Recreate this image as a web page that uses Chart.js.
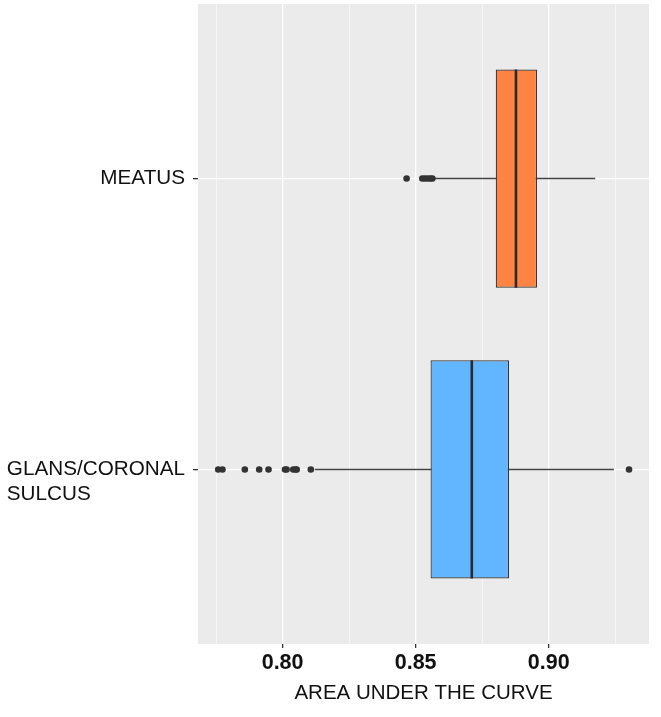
<!DOCTYPE html>
<html>
<head>
<meta charset="utf-8">
<script src="https://cdn.jsdelivr.net/npm/chart.js@4.4.1/dist/chart.umd.min.js"></script>
<style>
  body { margin: 0; background: #fff; }
  canvas { display: block; }
</style>
</head>
<body>
<canvas id="aucBox" width="661" height="717"></canvas>
<script>
// categories, top to bottom
const categories = [['MEATUS'], ['GLANS/CORONAL', 'SULCUS']];
const boxColors = ['#FF8443', '#62B5FF'];

// box stats
const q1 = [0.8801, 0.8556];
const medians = [0.8877, 0.8711];
const q3 = [0.8956, 0.8851];
const whiskerLow = [0.8573, 0.8121];
const whiskerHigh = [0.9175, 0.9245];

const meatusOutliers = [0.8466, 0.8525, 0.8535, 0.8545, 0.8555, 0.8563];
const glansOutliers = [0.7758, 0.7774, 0.7858, 0.7912, 0.7947, 0.8009, 0.8015, 0.8040, 0.8049, 0.8053, 0.8106, 0.9302];

const xTicks = [0.775, 0.80, 0.825, 0.85, 0.875, 0.90, 0.925];
const majorTicks = [0.80, 0.85, 0.90];
const xMin = 0.7682, xMax = 0.9377;

const isMajor = v => majorTicks.some(m => Math.abs(m - v) < 1e-6);
const halfBox = 0.375;

// build the datasets
const boxData = categories.map((c, i) => ({ x: [q1[i], q3[i]], y: i }));
const whiskerData = [];
const medianData = [];
categories.forEach((c, i) => {
    whiskerData.push({ x: whiskerLow[i], y: i }, { x: whiskerHigh[i], y: i }, { x: null, y: null });
    medianData.push({ x: medians[i], y: i - halfBox }, { x: medians[i], y: i + halfBox }, { x: null, y: null });
});
const outlierData = [
    ...meatusOutliers.map(v => ({ x: v, y: 0 })),
    ...glansOutliers.map(v => ({ x: v, y: 1 }))
];

const panelBg = {
    id: 'panelBg',
    beforeDraw(chart) {
        const { ctx, chartArea: a } = chart;
        ctx.save();
        ctx.fillStyle = '#EBEBEB';
        ctx.fillRect(a.left, a.top, a.right - a.left, a.bottom - a.top);
        ctx.restore();
    }
};

// category labels: first line sits on the tick, extra lines below, left aligned block
const catLabels = {
    id: 'catLabels',
    afterDraw(chart) {
        const { ctx } = chart;
        const y = chart.scales.y;
        const right = chart.chartArea.left - 13;
        const lineH = 24.5;
        ctx.save();
        ctx.font = '20.7px Arial, "Liberation Sans", sans-serif';
        ctx.fillStyle = '#111111';
        ctx.textBaseline = 'middle';
        categories.forEach((lines, i) => {
            const py = y.getPixelForValue(i);
            const w = Math.max(...lines.map(l => ctx.measureText(l).width));
            ctx.textAlign = 'left';
            lines.forEach((l, k) => ctx.fillText(l, right - w, py + k * lineH));
        });
        ctx.restore();
    }
};

new Chart(document.getElementById('aucBox').getContext('2d'), {
    data: {
        datasets: [
            {
                type: 'bar',
                data: boxData,
                backgroundColor: boxColors,
                borderColor: '#333333',
                borderWidth: 1.2,
                borderSkipped: false,
                barPercentage: 0.75,
                categoryPercentage: 1,
                order: 2
            },
            {
                type: 'scatter',
                data: whiskerData,
                showLine: true,
                spanGaps: false,
                borderColor: '#444444',
                borderWidth: 1.6,
                pointRadius: 0,
                order: 3
            },
            {
                type: 'scatter',
                data: medianData,
                showLine: true,
                spanGaps: false,
                borderColor: '#2b2b2b',
                borderWidth: 2.6,
                pointRadius: 0,
                order: 1
            },
            {
                type: 'scatter',
                data: outlierData,
                pointRadius: 3.3,
                pointBackgroundColor: '#333333',
                pointBorderWidth: 0,
                order: 0
            }
        ]
    },
    options: {
        indexAxis: 'y',
        responsive: false,
        animation: false,
        layout: { padding: { top: 4, right: 12, left: 0, bottom: 0 } },
        plugins: { legend: { display: false }, tooltip: { enabled: false } },
        scales: {
            x: {
                type: 'linear',
                position: 'bottom',
                min: xMin,
                max: xMax,
                offset: false,
                afterBuildTicks: s => { s.ticks = xTicks.map(v => ({ value: v })); },
                afterFit: s => { s.height = 73; },
                border: { display: false },
                grid: {
                    offset: false,
                    color: '#FFFFFF',
                    lineWidth: c => isMajor(c.tick.value) ? 1.3 : 0.6,
                    tickColor: c => isMajor(c.tick.value) ? '#333333' : 'rgba(0,0,0,0)',
                    tickLength: 4
                },
                ticks: {
                    autoSkip: false,
                    maxRotation: 0,
                    padding: 2,
                    color: '#111111',
                    font: { family: 'Arial, "Liberation Sans", sans-serif', size: 21.5, weight: 'bold' },
                    callback: v => isMajor(v) ? v.toFixed(2) : ''
                },
                title: {
                    display: true,
                    text: 'AREA UNDER THE CURVE',
                    color: '#111111',
                    font: { family: 'Arial, "Liberation Sans", sans-serif', size: 20.5 },
                    padding: { top: 4, bottom: 11 }
                }
            },
            y: {
                type: 'linear',
                position: 'left',
                reverse: true,
                min: -0.6,
                max: 1.6,
                offset: false,
                afterBuildTicks: s => { s.ticks = categories.map((c, i) => ({ value: i })); },
                afterFit: s => { s.width = 198; },
                border: { display: false },
                grid: {
                    offset: false,
                    color: '#FFFFFF',
                    lineWidth: 1.3,
                    tickColor: '#333333',
                    tickLength: 5
                },
                ticks: { display: false }
            }
        }
    },
    plugins: [panelBg, catLabels]
});
</script>
</body>
</html>
